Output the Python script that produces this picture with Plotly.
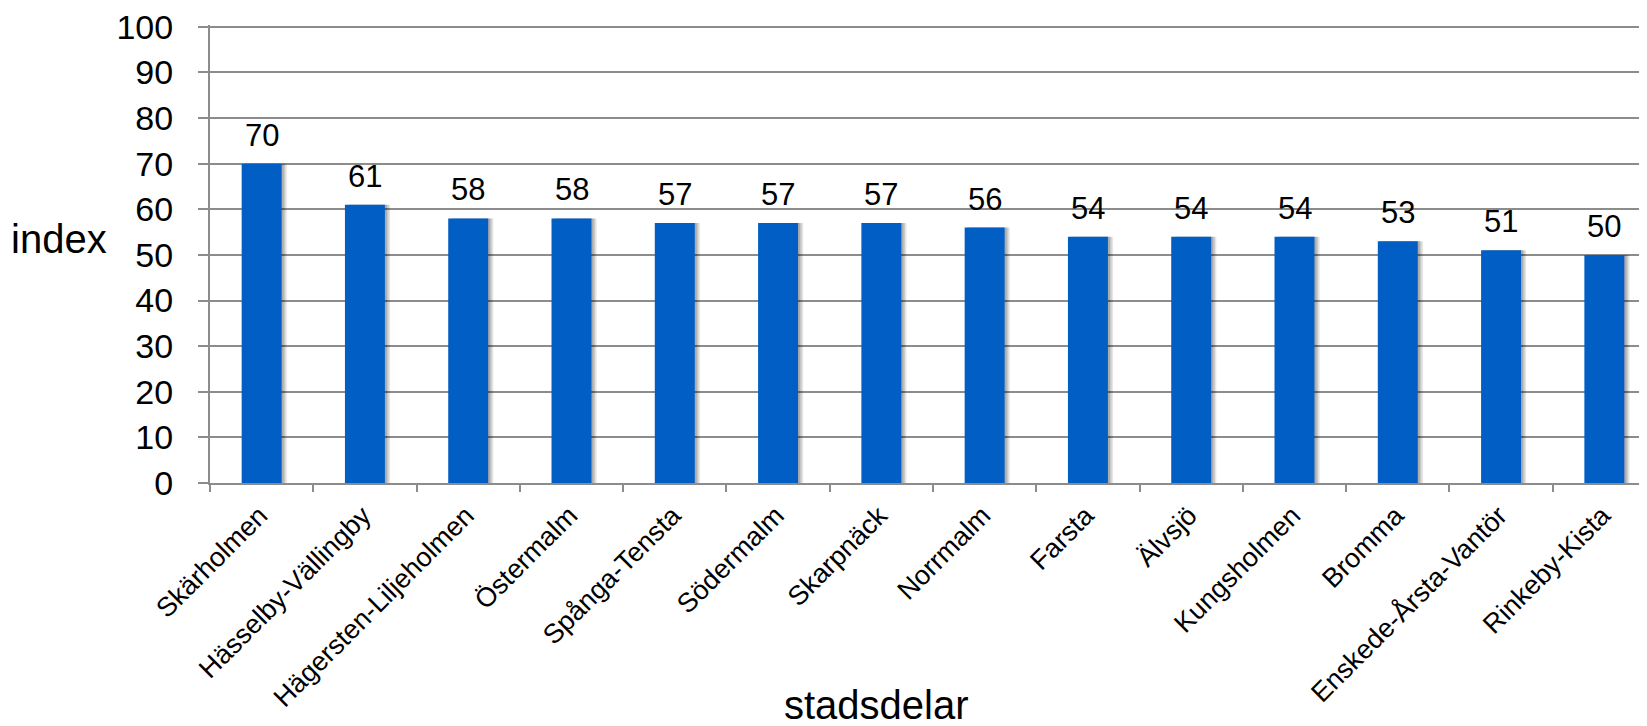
import plotly.graph_objects as go

categories = ["Skärholmen", "Hässelby-Vällingby", "Hägersten-Liljeholmen", "Östermalm",
              "Spånga-Tensta", "Södermalm", "Skarpnäck", "Norrmalm", "Farsta", "Älvsjö",
              "Kungsholmen", "Bromma", "Enskede-Årsta-Vantör", "Rinkeby-Kista"]
values = [70, 61, 58, 58, 57, 57, 57, 56, 54, 54, 54, 53, 51, 50]
y_ticks = [0, 10, 20, 30, 40, 50, 60, 70, 80, 90, 100]

FONT = "Arial, 'Liberation Sans', sans-serif"
BAR_COLOR = "rgb(0,94,196)"
GRID = "rgb(140,140,140)"
W = 0.387

fig = go.Figure()
# soft drop shadow behind bars
for d, a in [(0.05, 0.10), (0.035, 0.12), (0.02, 0.14)]:
    fig.add_trace(go.Bar(x=categories, y=values, width=W, offset=-W / 2 + d,
                         marker=dict(color=f"rgba(0,0,0,{a})", line=dict(width=0)),
                         hoverinfo="skip", showlegend=False))
fig.add_trace(go.Bar(x=categories, y=values, width=W, offset=-W / 2,
                     marker=dict(color=BAR_COLOR, line=dict(width=0)),
                     showlegend=False))

for c, v in zip(categories, values):
    fig.add_annotation(x=c, y=v, text=str(v), showarrow=False, yanchor="bottom",
                       yshift=9, font=dict(family=FONT, size=31, color="black"))

fig.add_annotation(xref="paper", yref="paper", x=(9 - 210) / 1437, y=(483 - 239) / 458,
                   xanchor="left", yanchor="middle", text="index", showarrow=False,
                   font=dict(family=FONT, size=40, color="black"))
fig.add_annotation(xref="paper", yref="paper", x=(876 - 210) / 1437, y=(483 - 705) / 458,
                   xanchor="center", yanchor="middle", text="stadsdelar", showarrow=False,
                   font=dict(family=FONT, size=40, color="black"))

fig.update_layout(
    width=1639, height=718,
    margin=dict(l=202, r=0, t=17, b=243, autoexpand=False),
    paper_bgcolor="white", plot_bgcolor="white",
    barmode="overlay",
    font=dict(family=FONT, color="black"),
    xaxis=dict(type="category", tickangle=-45, tickfont=dict(size=27, family=FONT),
               showgrid=False, showline=True, linecolor=GRID, linewidth=2,
               ticks="outside", tickson="boundaries", ticklen=7, tickwidth=2, tickcolor=GRID,
               range=[-0.5, len(categories) - 0.5 - 9 / 103.3], ticklabelstandoff=4,
               ticklabelshift=-2, automargin=False, ticklabeloverflow="allow"),
    yaxis=dict(range=[0, 100.4], tickvals=y_ticks, tickfont=dict(size=34, family=FONT),
               showgrid=True, gridcolor=GRID, gridwidth=2,
               showline=True, linecolor=GRID, linewidth=2,
               ticks="outside", ticklen=10, tickwidth=2, tickcolor=GRID,
               zeroline=False, ticklabelstandoff=18, automargin=False,
               ticklabeloverflow="allow"),
)

fig.write_html("out.html")
